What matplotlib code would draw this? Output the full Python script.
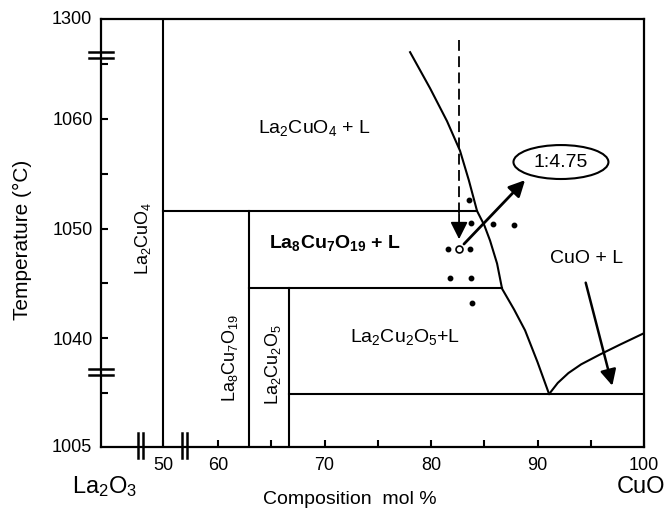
import matplotlib
matplotlib.use("Agg")
import matplotlib.pyplot as plt
from matplotlib.patches import Ellipse

plt.rcParams["font.family"] = ["Liberation Sans", "DejaVu Sans"]
plt.rcParams["mathtext.fontset"] = "custom"
plt.rcParams["mathtext.rm"] = "Liberation Sans"
plt.rcParams["mathtext.it"] = "Liberation Sans"
plt.rcParams["mathtext.bf"] = "Liberation Sans:bold"
plt.rcParams["mathtext.default"] = "rm"

# 数据（组成 mol% CuO，温度 °C；温度轴为折断轴，以绘图坐标记）
X_SHIFT = 4.84          # 50 mol% 附近折断的偏移
X_LEFT, X_RIGHT = 49.0, 100.0
Y_BOT, Y_TOP = 1030.05, 1069.13

x_major = [60, 70, 80, 90, 100]
x_minor = [65, 75, 85, 95]
y_major = [1040, 1050, 1060]
y_minor = [1035, 1045, 1055, 1065]

# 化合物竖线：组成, 上端温度
comp_x   = [50, 62.9, 66.7]
comp_top = [Y_TOP, 1051.6, 1044.57]

# 水平线（包晶/共晶）：温度, 起点组成, 终点组成
iso_T     = [1051.6, 1044.57, 1034.9]
iso_start = [50, 62.9, 66.7]
iso_end   = [84.32, 86.67, 100]

# 液相线
liq_x = [78.03, 79.91, 81.50, 82.72, 83.55, 84.32, 85.0, 85.54, 86.2, 86.67, 87.8, 88.83, 90.0, 91.08]
liq_T = [1066.1, 1062.8, 1059.8, 1057.1, 1054.4, 1051.6, 1050.3, 1048.9, 1046.8, 1044.5, 1042.6, 1040.7, 1037.8, 1034.9]
cuo_x = [91.1, 91.9, 92.9, 94.1, 95.87, 97.75, 99.91]
cuo_T = [1034.9, 1035.9, 1036.8, 1037.6, 1038.5, 1039.4, 1040.4]

# 实验点
dot_x = [83.57, 83.76, 85.82, 87.79, 81.60, 83.66, 81.78, 83.76, 83.85]
dot_T = [1052.6, 1050.5, 1050.4, 1050.3, 1048.1, 1048.1, 1045.5, 1045.5, 1043.2]
open_x, open_T = 82.63, 1048.1


def xu(c):
    """组成 -> 绘图坐标（50 处折断）。"""
    return c + X_SHIFT if c < 55 else c


fig = plt.figure(figsize=(6.66, 5.13), dpi=100)
ax = fig.add_axes([101 / 666, 1 - 447 / 513, 543 / 666, 428 / 513])
ax.set_xlim(X_LEFT, X_RIGHT)
ax.set_ylim(Y_BOT, Y_TOP)
for s in ax.spines.values():
    s.set_linewidth(1.6)

lw = 1.5
for c, top in zip(comp_x, comp_top):
    ax.plot([xu(c), xu(c)], [Y_BOT, top], color="black", lw=lw)
for T, a, b in zip(iso_T, iso_start, iso_end):
    ax.plot([xu(a), xu(b)], [T, T], color="black", lw=lw)
ax.plot(liq_x, liq_T, color="black", lw=lw)
ax.plot(cuo_x, cuo_T, color="black", lw=lw)

ax.plot(dot_x, dot_T, "o", color="black", ms=3.2, ls="none")
ax.plot([open_x], [open_T], "o", mfc="white", mec="black", ms=5, mew=1.2)

# 虚线箭头
ax.plot([82.63, 82.63], [1067.2, 1051.2], color="black", lw=1.3, ls=(0, (6, 3)))
ax.annotate("", xy=(82.63, 1048.77), xytext=(82.63, 1051.6),
            arrowprops=dict(arrowstyle="-|>", mutation_scale=26, lw=1.3, color="black"))
# 指向 1:4.75
ax.annotate("", xy=(89.01, 1054.6), xytext=(82.91, 1048.4),
            arrowprops=dict(arrowstyle="-|>", mutation_scale=24, lw=2.0, color="black"))
# CuO + L 箭头
ax.annotate("", xy=(97.09, 1035.4), xytext=(94.46, 1045.3),
            arrowprops=dict(arrowstyle="-|>", mutation_scale=24, lw=1.8, color="black"))

ax.add_patch(Ellipse((92.2, 1056.07), 8.92, 3.1, facecolor="white",
                     edgecolor="black", lw=1.5, zorder=4))
ax.text(92.2, 1056.07, "1:4.75", ha="center", va="center", fontsize=14, zorder=5)

ax.text(69.0, 1059.2, r"La$_2$CuO$_4$ + L", ha="center", va="center", fontsize=14)
ax.text(71.0, 1048.7, r"La$_\mathbf{8}$Cu$_\mathbf{7}$O$_\mathbf{19}$ + L", ha="center", va="center",
        fontsize=14, fontweight="bold")
ax.text(77.56, 1040.1, r"La$_2$Cu$_2$O$_5$+L", ha="center", va="center", fontsize=14)
ax.text(94.65, 1047.3, "CuO + L", ha="center", va="center", fontsize=14)
ax.text(52.96, 1049.1, r"La$_2$CuO$_4$", ha="center", va="center", fontsize=13, rotation=90)
ax.text(61.13, 1038.2, r"La$_8$Cu$_7$O$_{19}$", ha="center", va="center", fontsize=13, rotation=90)
ax.text(65.16, 1037.6, r"La$_2$Cu$_2$O$_5$", ha="center", va="center", fontsize=13, rotation=90)

# 刻度
ax.set_xticks([xu(50)] + x_major + x_minor)
ax.set_xticklabels(["50"] + [str(v) for v in x_major] + [""] * len(x_minor), fontsize=13)
ax.set_yticks(y_major + y_minor)
ax.set_yticklabels([str(v) for v in y_major] + [""] * len(y_minor), fontsize=13)
ax.tick_params(direction="in", length=5, width=1.5, pad=6)
ax.tick_params(axis="x", pad=7)
ax.text(X_LEFT - 0.85, Y_BOT, "1005", ha="right", va="center", fontsize=13)
ax.text(X_LEFT - 0.85, Y_TOP, "1300", ha="right", va="center", fontsize=13)

# 折断符号
for y0, y1 in [(1066.1, 1065.6), (1037.17, 1036.6)]:
    for y in (y0, y1):
        ax.plot([47.89, 50.14], [y, y], color="black", lw=1.8, clip_on=False)
for x0, x1 in [(52.49, 52.96), (56.62, 57.09)]:
    for x in (x0, x1):
        ax.plot([x, x], [1031.3, 1029.0], color="black", lw=1.8, clip_on=False)

fig.text(22 / 666, 1 - 240 / 513, "Temperature (°C)", rotation=90,
         ha="center", va="center", fontsize=15)
fig.text(350 / 666, 1 - 500 / 513, "Composition  mol %", ha="center", va="center", fontsize=14)
fig.text(105 / 666, 1 - 487 / 513, r"La$_2$O$_3$", ha="center", va="center", fontsize=17)
fig.text(641 / 666, 1 - 487 / 513, "CuO", ha="center", va="center", fontsize=17)

fig.savefig("out.png", dpi=100)
